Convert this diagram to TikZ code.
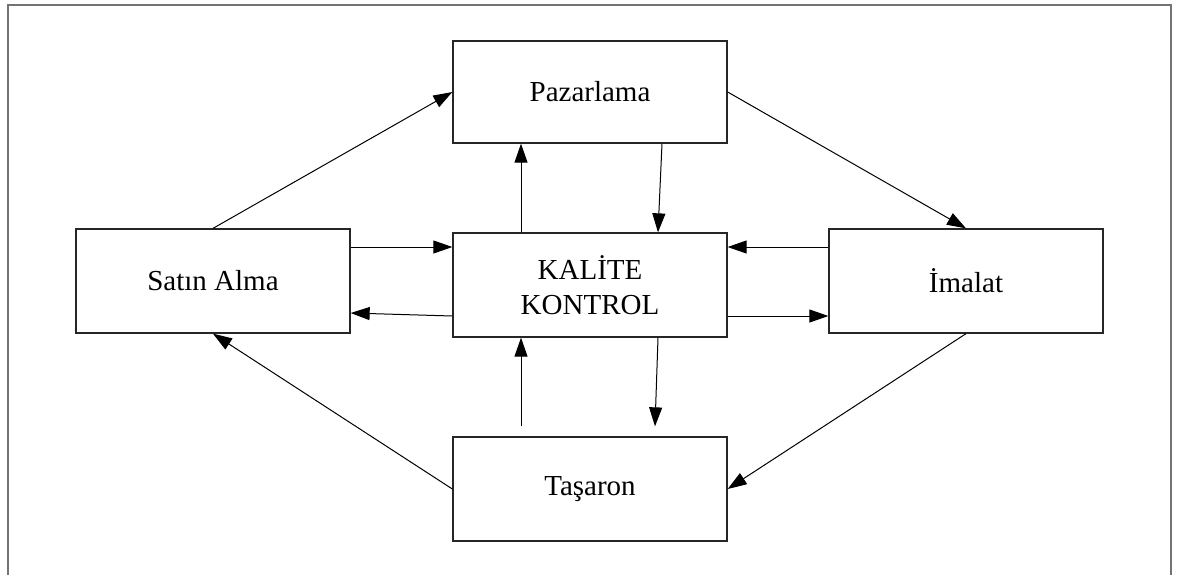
\documentclass[tikz,border=0pt]{standalone}
\usepackage{fontspec}
\setmainfont{Liberation Serif}
\usetikzlibrary{arrows.meta}
\begin{document}
\begin{tikzpicture}[x=1pt,y=-1pt,
  unit/.style={draw=black!85,line width=1.3pt,fill=white,
    minimum width=274pt,minimum height=104pt,inner sep=0pt,align=center,
    font=\fontsize{29}{35}\selectfont},
  flow/.style={draw=black,line width=1pt,
    -{Triangle[length=19pt,width=13pt]}}]
  \useasboundingbox (0,0) rectangle (1177,574);
  % open outer frame
  \draw[draw=black!55,line width=2pt] (8,580) -- (8,5) -- (1171,5) -- (1171,580);

  % departments
  \node[unit,minimum height=102pt] (pz) at (590,92) {Pazarlama};
  \node[unit] (kc) at (590,285) {KAL\.ITE\\KONTROL};
  \node[unit] (sa) at (213,281) {Satın Alma};
  \node[unit] (im) at (966,281) {İmalat};
  \node[unit] (ts) at (590,489) {Taşaron};

  % outer ring
  \draw[flow] (sa.north) -- (pz.west);
  \draw[flow] (pz.east) -- (im.north);
  \draw[flow] (im.south) -- (ts.east);
  \draw[flow] (ts.west) -- (sa.south);

  % links with quality control
  \draw[flow] ([xshift=-69]kc.north) -- ([xshift=-69]pz.south);
  \draw[flow] ([xshift=72]pz.south) -- ([xshift=68]kc.north);
  \draw[flow] ([yshift=34]sa.east) -- ([yshift=38]kc.west);
  \draw[flow] ([yshift=-31]kc.west) -- ([yshift=-32]sa.east);
  \draw[flow] ([yshift=34]im.west) -- ([yshift=38]kc.east);
  \draw[flow] ([yshift=-31]kc.east) -- ([yshift=-35]im.west);
  \draw[flow] ([xshift=-69,yshift=10]ts.north) -- ([xshift=-69]kc.south);
  \draw[flow] ([xshift=68]kc.south) -- ([xshift=65,yshift=10]ts.north);
\end{tikzpicture}
\end{document}
